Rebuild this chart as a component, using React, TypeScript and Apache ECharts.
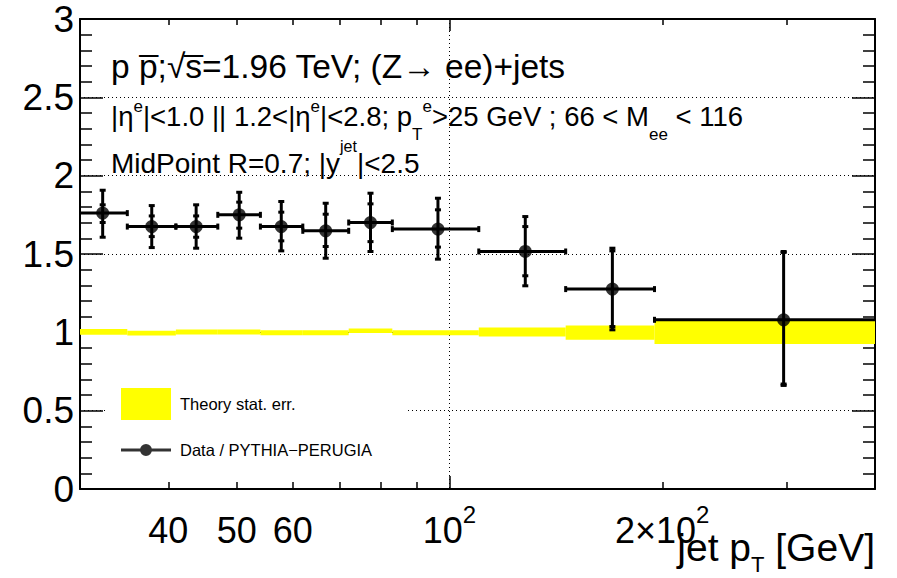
import React, { useEffect, useRef } from "react";
import * as echarts from "echarts";

const FONT = '"Liberation Sans", Arial, Helvetica, sans-serif';

// jet pT bins (GeV)
const binLo = [30, 35, 41, 47, 54, 62, 72, 83, 110, 146, 195];
const binHi = [35, 41, 47, 54, 62, 72, 83, 110, 146, 195, 450];
const ptCenter = [32.3, 37.9, 43.8, 50.4, 57.8, 66.8, 77.3, 96.3, 128, 170, 297];
// Data / PYTHIA-PERUGIA
const ratio = [1.761, 1.675, 1.675, 1.75, 1.675, 1.648, 1.701, 1.659, 1.516, 1.276, 1.08];
const totalHi = [1.907, 1.809, 1.814, 1.894, 1.835, 1.824, 1.888, 1.856, 1.739, 1.537, 1.516];
const totalLo = [1.607, 1.541, 1.537, 1.601, 1.52, 1.473, 1.516, 1.467, 1.297, 1.016, 0.661];
const statHi = [1.814, 1.743, 1.743, 1.831, 1.767, 1.754, 1.82, 1.782, 1.675, 1.52, 1.51];
const statLo = [1.701, 1.611, 1.607, 1.665, 1.584, 1.548, 1.579, 1.544, 1.361, 1.037, 0.67];
// Theory stat. err. band
const theoryCenter = [1.0025, 0.995, 1.0025, 1.0025, 0.998, 0.998, 1.01, 0.998, 1.0025, 0.998, 1.003];
const theoryErr = [0.018, 0.015, 0.016, 0.016, 0.016, 0.016, 0.015, 0.016, 0.0285, 0.046, 0.077];

const xMin = 30;
const xMax = 400;
const xShortTicks = [40, 50, 60, 70, 80, 90, 200, 300];
const xLongTicks = [100];
const xLabelValues = [40, 50, 60, 100, 200];
const yMin = 0;
const yMax = 3;
const yStep = 0.5;

const lg = (v: number) => Math.log10(v);

function fmtX(v: number) {
  const r = Math.round(Math.pow(10, v));
  if (r === 100) return "10{sup|2}";
  if (r === 200) return "2\u00d710{sup|2}";
  return String(r);
}

const BLACK = "#000";
const tickStyle = { color: BLACK, width: 1.5 };
const frameStyle = { color: BLACK, width: 2 };
const dotted = { color: BLACK, width: 1, type: [1, 3] as any };

function buildOption(): any {
  const xBase = { type: "value", min: lg(xMin), max: lg(xMax), gridIndex: 0 };
  const yBase = { type: "value", min: yMin, max: yMax, interval: yStep, gridIndex: 0 };
  return {
    animation: false,
    backgroundColor: "#fff",
    grid: { left: 80, right: 22, top: 19, bottom: 89, containLabel: false, outerBoundsMode: "none" },
    title: [
      {
        text: "p p\u0305;\u221As\u0305=1.96 TeV; (Z\u2192 ee)+jets",
        left: 111,
        top: 48,
        padding: 0,
        textStyle: { fontFamily: FONT, fontSize: 33.5, fontWeight: "normal", color: BLACK, lineHeight: 36 },
      },
      {
        text: "|\u03b7{sup|e}|<1.0 || 1.2<|\u03b7{sup|e}|<2.8; p{sub|T}{sup|e}>25 GeV ; 66 < M{sub|ee} < 116",
        left: 111,
        top: 90,
        padding: 0,
        textStyle: {
          fontFamily: FONT,
          fontSize: 27.5,
          fontWeight: "normal",
          color: BLACK,
          lineHeight: 53,
          rich: {
            sup: { fontFamily: FONT, fontSize: 17, color: BLACK, lineHeight: 10, height: 32, verticalAlign: "top" },
            sub: { fontFamily: FONT, fontSize: 17, color: BLACK, lineHeight: 10, height: 88, verticalAlign: "top" },
          },
        },
      },
      {
        text: "MidPoint R=0.7; |y{sup|jet}|<2.5",
        left: 111,
        top: 125,
        padding: 0,
        textStyle: {
          fontFamily: FONT,
          fontSize: 28,
          fontWeight: "normal",
          color: BLACK,
          lineHeight: 77,
          rich: {
            sup: { fontFamily: FONT, fontSize: 16, color: BLACK, lineHeight: 10, height: 43, verticalAlign: "top" },
          },
        },
      },
    ],
    legend: {
      orient: "vertical",
      left: 108,
      top: 375,
      padding: [13, 33, 6, 13],
      backgroundColor: "#fff",
      itemWidth: 50,
      itemHeight: 32,
      itemGap: 14,
      selectedMode: false,
      textStyle: { fontFamily: FONT, fontSize: 16.5, color: BLACK, padding: [0, 0, 0, 4] },
      data: [
        { name: "Theory stat. err.", icon: "rect", itemStyle: { color: "#ffff00" } },
        {
          name: "Data / PYTHIA\u2212PERUGIA",
          icon:
            "path://M0,14.5L50,14.5L50,17.5L0,17.5Z M25,10A6,6,0,1,1,25,22A6,6,0,1,1,25,10Z M0,0L0.01,0L0.01,0.01Z M49.99,31.99L50,31.99L50,32Z",
          itemStyle: { color: BLACK },
        },
      ],
    },
    xAxis: [
      {
        ...xBase,
        position: "bottom",
        axisLine: { show: true, onZero: false, lineStyle: frameStyle },
        axisTick: { show: true, inside: true, length: 7, customValues: xShortTicks.map(lg), lineStyle: tickStyle },
        axisLabel: {
          show: true,
          customValues: xLabelValues.map(lg),
          formatter: fmtX,
          fontFamily: FONT,
          fontSize: 36,
          color: BLACK,
          margin: 16,
          lineHeight: 50,
          rich: {
            sup: { fontFamily: FONT, fontSize: 24, color: BLACK, lineHeight: 10, height: 19, verticalAlign: "top" },
          },
        },
        splitLine: { show: false },
        name: "jet p{sub|T} [GeV]",
        nameLocation: "end",
        nameGap: 0,
        nameMoveOverlap: false,
        nameTextStyle: {
          fontFamily: FONT,
          fontSize: 39,
          color: BLACK,
          align: "right",
          verticalAlign: "top",
          lineHeight: 56,
          padding: [30, 0, 0, 0],
          rich: {
            sub: { fontFamily: FONT, fontSize: 22, color: BLACK, lineHeight: 22, verticalAlign: "bottom" },
          },
        },
      },
      {
        ...xBase,
        position: "bottom",
        axisLine: { show: false, onZero: false },
        axisTick: { show: true, inside: true, length: 13, customValues: xLongTicks.map(lg), lineStyle: tickStyle },
        axisLabel: { show: false },
        splitLine: { show: true, lineStyle: dotted },
      },
      {
        ...xBase,
        position: "top",
        axisLine: { show: true, onZero: false, lineStyle: frameStyle },
        axisTick: { show: true, inside: true, length: 6, customValues: xShortTicks.map(lg), lineStyle: tickStyle },
        axisLabel: { show: false },
        splitLine: { show: false },
      },
      {
        ...xBase,
        position: "top",
        axisLine: { show: false, onZero: false },
        axisTick: { show: true, inside: true, length: 12, customValues: xLongTicks.map(lg), lineStyle: tickStyle },
        axisLabel: { show: false },
        splitLine: { show: false },
      },
    ],
    yAxis: [
      {
        ...yBase,
        position: "left",
        axisLine: { show: true, onZero: false, lineStyle: frameStyle },
        axisTick: { show: true, inside: true, length: 23, lineStyle: tickStyle },
        minorTick: { show: true, splitNumber: 5, length: 12, lineStyle: tickStyle },
        axisLabel: {
          show: true,
          fontFamily: FONT,
          fontSize: 37,
          color: BLACK,
          margin: 6,
          formatter: (v: number) => String(v),
        },
        splitLine: { show: true, lineStyle: dotted },
      },
      {
        ...yBase,
        position: "right",
        axisLine: { show: true, onZero: false, lineStyle: frameStyle },
        axisTick: { show: true, inside: true, length: 23, lineStyle: tickStyle },
        minorTick: { show: true, splitNumber: 5, length: 12, lineStyle: tickStyle },
        axisLabel: { show: false },
        splitLine: { show: false },
      },
    ],
    series: [
      {
        type: "custom",
        name: "Theory stat. err.",
        xAxisIndex: 0,
        yAxisIndex: 0,
        z: 2,
        itemStyle: { color: "#ffff00" },
        data: binLo.map((lo, i) => [lg(lo), lg(binHi[i]), theoryCenter[i] - theoryErr[i], theoryCenter[i] + theoryErr[i]]),
        encode: { x: [0, 1], y: [2, 3] },
        renderItem: (params: any, api: any) => {
          const p1 = api.coord([api.value(0), api.value(3)]);
          const p2 = api.coord([api.value(1), api.value(2)]);
          const rect = echarts.graphic.clipRectByRect(
            { x: p1[0], y: p1[1], width: p2[0] - p1[0], height: p2[1] - p1[1] },
            params.coordSys
          );
          if (!rect) return null;
          return { type: "rect", shape: rect, style: { fill: "#ffff00" } };
        },
      },
      {
        type: "custom",
        name: "errors",
        xAxisIndex: 0,
        yAxisIndex: 0,
        z: 3,
        silent: true,
        data: ptCenter.map((p, i) => [
          lg(p),
          ratio[i],
          totalLo[i],
          totalHi[i],
          statLo[i],
          statHi[i],
          lg(binLo[i]),
          lg(binHi[i]),
        ]),
        encode: { x: 0, y: 1 },
        renderItem: (params: any, api: any) => {
          const cs = params.coordSys;
          const x = api.value(0);
          const y = api.value(1);
          const c = api.coord([x, y]);
          const xlRaw = api.coord([api.value(6), y])[0];
          const xhRaw = api.coord([api.value(7), y])[0];
          const xl = Math.max(xlRaw, cs.x);
          const xh = Math.min(xhRaw, cs.x + cs.width);
          const yTL = api.coord([x, api.value(2)])[1];
          const yTH = api.coord([x, api.value(3)])[1];
          const ySL = api.coord([x, api.value(4)])[1];
          const ySH = api.coord([x, api.value(5)])[1];
          const st = { stroke: BLACK, lineWidth: 3 };
          const children: any[] = [
            { type: "line", shape: { x1: xl, y1: c[1], x2: xh, y2: c[1] }, style: st },
            { type: "line", shape: { x1: c[0], y1: yTH, x2: c[0], y2: yTL }, style: st },
          ];
          [yTH, yTL, ySH, ySL].forEach((yy) => {
            children.push({ type: "rect", shape: { x: c[0] - 3, y: yy - 1.5, width: 6, height: 3 }, style: { fill: BLACK } });
          });
          if (xlRaw > cs.x + 0.5) {
            children.push({ type: "rect", shape: { x: xl - 1.5, y: c[1] - 3, width: 3, height: 6 }, style: { fill: BLACK } });
          }
          if (xhRaw < cs.x + cs.width - 0.5) {
            children.push({ type: "rect", shape: { x: xh - 1.5, y: c[1] - 3, width: 3, height: 6 }, style: { fill: BLACK } });
          }
          return { type: "group", children };
        },
      },
      {
        type: "scatter",
        name: "Data / PYTHIA\u2212PERUGIA",
        xAxisIndex: 0,
        yAxisIndex: 0,
        z: 4,
        symbol: "circle",
        symbolSize: 13,
        itemStyle: { color: BLACK },
        data: ptCenter.map((p, i) => [lg(p), ratio[i]]),
      },
    ],
  };
}

export default function App() {
  const ref = useRef<HTMLDivElement>(null);
  useEffect(() => {
    if (!ref.current) return;
    const chart = echarts.init(ref.current, null, { renderer: "svg" });
    chart.setOption(buildOption());
    return () => chart.dispose();
  }, []);
  return (
    <div
      ref={ref}
      style={{ position: "absolute", left: 0, top: 0, width: 897, height: 578, background: "#fff" }}
    />
  );
}
